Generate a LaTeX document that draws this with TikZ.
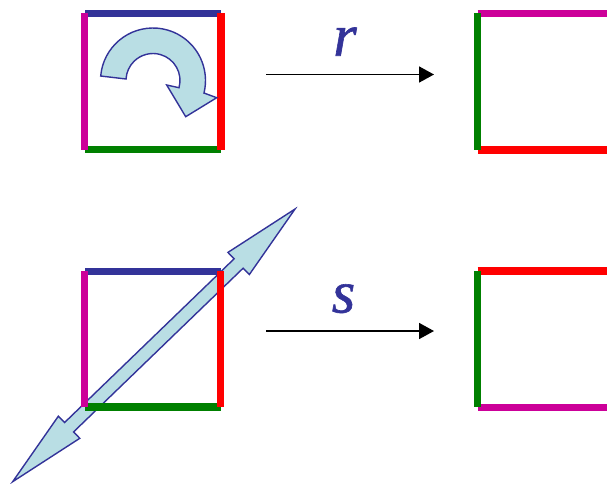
\documentclass[tikz,border=0pt]{standalone}
\usepackage{fontspec}
\setmainfont{Liberation Serif}
\newfontfamily\maplabel{Liberation Serif Italic}[FakeBold=1]
\usetikzlibrary{arrows.meta}
\definecolor{edgeblue}{RGB}{51,51,153}
\definecolor{edgepink}{RGB}{204,0,153}
\definecolor{edgegreen}{RGB}{0,128,0}
\definecolor{arrowfill}{RGB}{185,222,228}

\begin{document}
\begin{tikzpicture}[x=1pt,y=-1pt,
    side/.style={line width=7.5pt},
    bigarrow/.style={draw=edgeblue,fill=arrowfill,line width=1.4pt,line join=miter},
    map/.style={line width=1.7pt,-{Triangle[length=15pt,width=16pt]}},
    lbl/.style={anchor=base,text=edgeblue,font=\fontsize{60}{60}\selectfont\maplabel}]
    \useasboundingbox (0,0) rectangle (607,483);
    % rotation r
    \draw[side,edgeblue] (85,13.3) -- (221,13.3);
    \draw[side,edgegreen] (85,149.7) -- (221,149.7);
    \draw[side,edgepink] (84.7,13) -- (84.7,149.5);
    \draw[side,red] (221,13) -- (221,150);
    \coordinate (hub) at (153,80.5);
    \draw[bigarrow] ([shift={(hub)}]184.9:52.5) arc[start angle=184.9,end angle=373.8,radius=52.5]
        -- (216.7,97.7) -- (185.7,116.7) -- (166.7,85)
        -- ([shift={(hub)}]375.5:27) arc[start angle=375.5,end angle=183.2,radius=27] -- cycle;
    \coordinate (r from) at (266,74.5);
    \coordinate (r to) at (434,74.5);
    \draw[map] (r from) -- (r to);
    \node[lbl] (r) at (345,55.7) {r};
    \draw[side,edgepink] (477.7,13.3) -- (607,13.3);
    \draw[side,red] (477.7,149.8) -- (607,149.8);
    \draw[side,edgegreen] (477.7,13.3) -- (477.7,150);
    % reflection s
    \begin{scope}[shift={(153.85,345.35)},rotate=44]
        \draw[bigarrow] (-196.25,0) -- (-117.85,-15.4) -- (-117.85,-6.5) -- (117.85,-6.5)
            -- (117.85,-15.4) -- (196.25,0) -- (117.85,15.4) -- (117.85,6.5)
            -- (-117.85,6.5) -- (-117.85,15.4) -- cycle;
    \end{scope}
    \draw[side,edgeblue] (85,271.3) -- (220.5,271.3);
    \draw[side,edgegreen] (85,407) -- (220.5,407);
    \draw[side,edgepink] (84.7,271) -- (84.7,406.7);
    \draw[side,red] (220.5,271) -- (220.5,407);
    \coordinate (s from) at (266,331);
    \coordinate (s to) at (434,331);
    \draw[map] (s from) -- (s to);
    \node[lbl] (s) at (343.5,312.5) {s};
    \draw[side,red] (477.7,271) -- (607,271);
    \draw[side,edgepink] (477.7,407.3) -- (607,407.3);
    \draw[side,edgegreen] (477.7,270.7) -- (477.7,407.3);
\end{tikzpicture}
\end{document}
